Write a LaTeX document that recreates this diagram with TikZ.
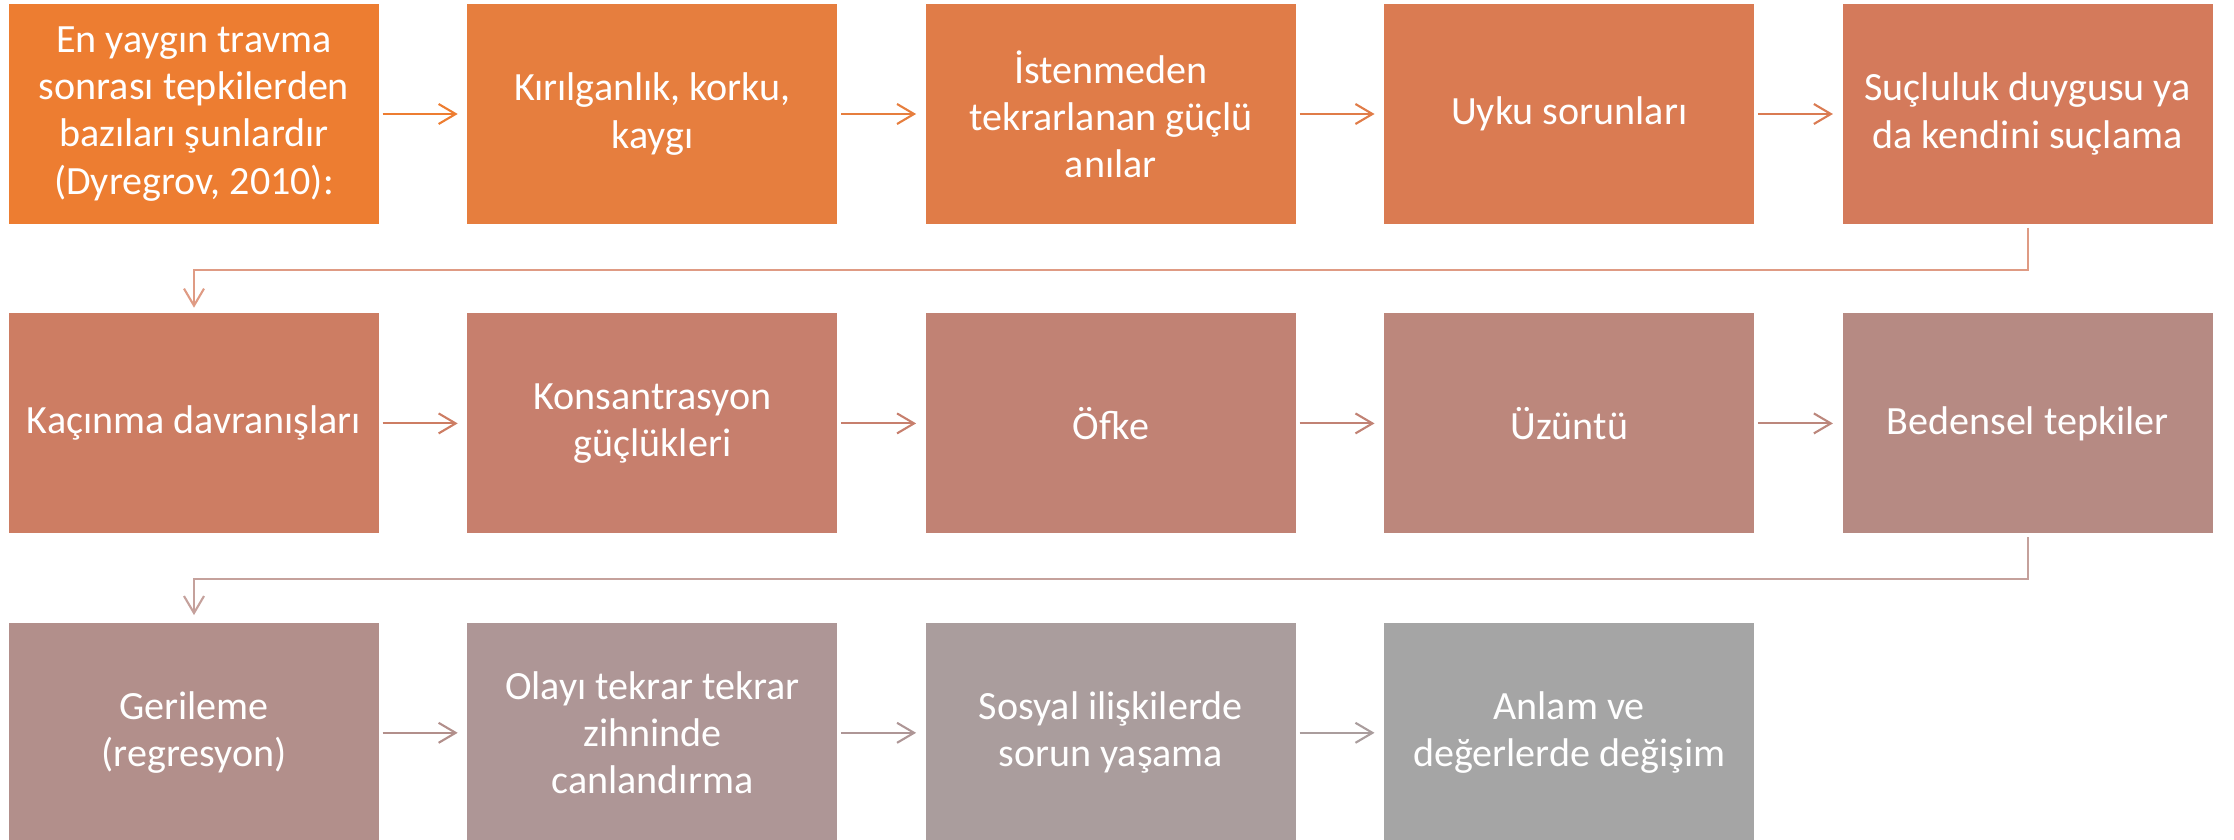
\documentclass[tikz,border=0pt]{standalone}
\usepackage{fontspec}
\setmainfont{Carlito}
\usetikzlibrary{positioning}
\usetikzlibrary{arrows.meta}
\definecolor{tepki1}{RGB}{237,125,49}
\definecolor{tepki2}{RGB}{230,126,62}
\definecolor{tepki3}{RGB}{224,124,72}
\definecolor{tepki4}{RGB}{218,123,82}
\definecolor{tepki5}{RGB}{212,122,91}
\definecolor{tepki6}{RGB}{205,125,99}
\definecolor{tepki7}{RGB}{199,127,109}
\definecolor{tepki8}{RGB}{193,130,116}
\definecolor{tepki9}{RGB}{188,135,124}
\definecolor{tepki10}{RGB}{182,138,131}
\definecolor{tepki11}{RGB}{178,143,139}
\definecolor{tepki12}{RGB}{174,150,150}
\definecolor{tepki13}{RGB}{170,157,157}
\definecolor{tepki14}{RGB}{165,165,165}
\tikzset{
  tepki/.style={fill=#1, minimum width=3.7cm, minimum height=2.2cm,
    inner sep=0pt, align=center, text=white,
    font=\fontsize{11.4}{13.4}\selectfont},
  akis/.style={draw=#1, line width=0.6pt,
    -{Straight Barb[length=0.17cm,width=0.2cm]},
    shorten <=0.03cm, shorten >=0.09cm}
}

\begin{document}
\begin{tikzpicture}[node distance=0.88cm and 0.87cm]
  \useasboundingbox (0,0) rectangle (22.34,-8.40);

  % first row
  \node [tepki=tepki1] (t1) at (1.94,-1.14) {En yaygın travma\\sonrası tepkilerden\\bazıları şunlardır\\(Dyregrov, 2010):};
  \node [tepki=tepki2, right=of t1] (t2) {Kırılganlık, korku,\\kaygı};
  \node [tepki=tepki3, right=of t2] (t3) {İstenmeden\\tekrarlanan güçlü\\anılar};
  \node [tepki=tepki4, right=of t3] (t4) {Uyku sorunları};
  \node [tepki=tepki5, right=of t4] (t5) {Suçluluk duygusu ya\\da kendini suçlama};

  % second row
  \node [tepki=tepki6, below=of t1] (t6) {Kaçınma davranışları};
  \node [tepki=tepki7, right=of t6] (t7) {Konsantrasyon\\güçlükleri};
  \node [tepki=tepki8, right=of t7] (t8) {Öfke};
  \node [tepki=tepki9, right=of t8] (t9) {Üzüntü};
  \node [tepki=tepki10, right=of t9] (t10) {Bedensel tepkiler};

  % third row
  \node [tepki=tepki11, below=of t6] (t11) {Gerileme\\(regresyon)};
  \node [tepki=tepki12, right=of t11] (t12) {Olayı tekrar tekrar\\zihninde\\canlandırma};
  \node [tepki=tepki13, right=of t12] (t13) {Sosyal ilişkilerde\\sorun yaşama};
  \node [tepki=tepki14, right=of t13] (t14) {Anlam ve\\değerlerde değişim};

  \draw [akis=tepki1] (t1) -- (t2);
  \draw [akis=tepki2] (t2) -- (t3);
  \draw [akis=tepki3] (t3) -- (t4);
  \draw [akis=tepki4] (t4) -- (t5);
  \draw [akis=tepki5!75!white, shorten >=0.05cm] (t5.south) -- ++(0,-0.45) -| (t6.north);

  \draw [akis=tepki6] (t6) -- (t7);
  \draw [akis=tepki7] (t7) -- (t8);
  \draw [akis=tepki8] (t8) -- (t9);
  \draw [akis=tepki9] (t9) -- (t10);
  \draw [akis=tepki10!80!white, shorten >=0.07cm] (t10.south) -- ++(0,-0.45) -| (t11.north);

  \draw [akis=tepki11] (t11) -- (t12);
  \draw [akis=tepki12] (t12) -- (t13);
  \draw [akis=tepki13] (t13) -- (t14);

\end{tikzpicture}
\end{document}
